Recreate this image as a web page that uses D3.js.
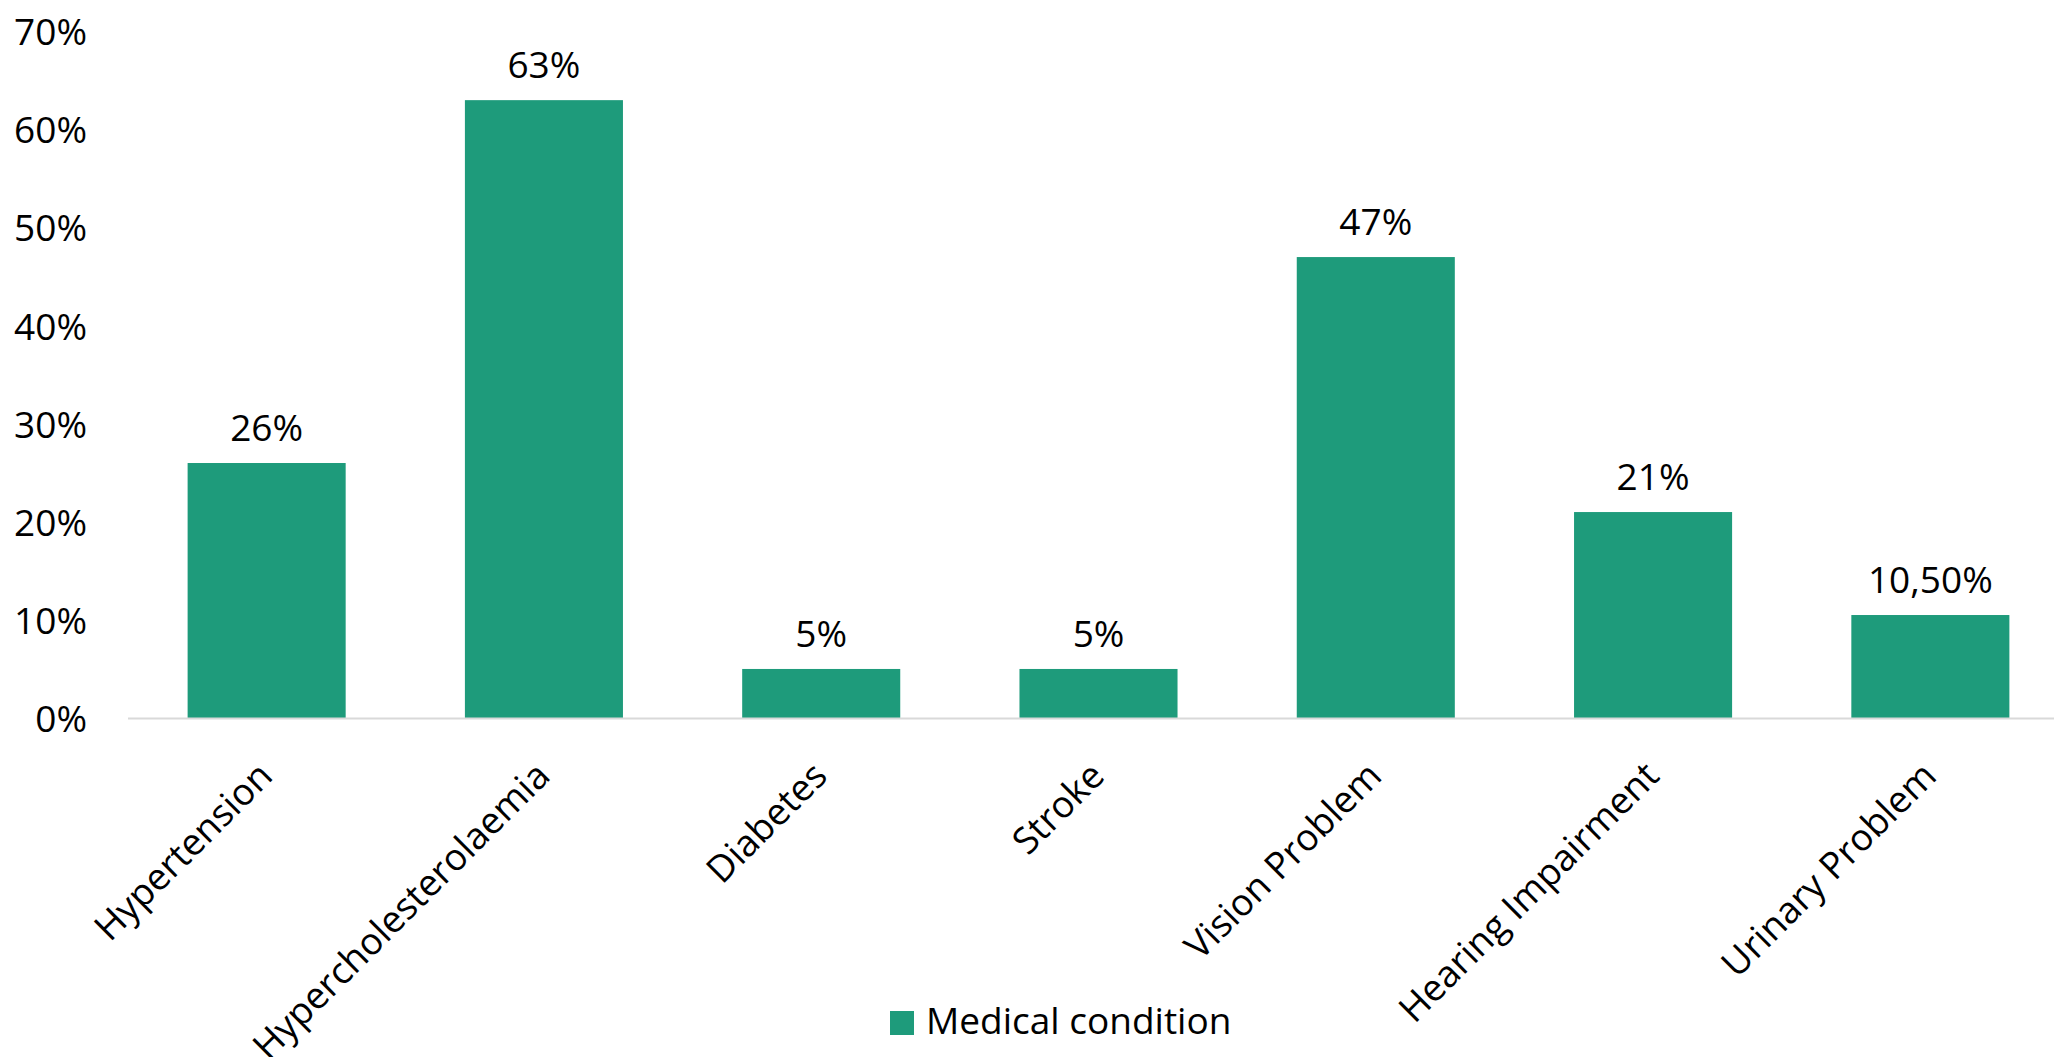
<!DOCTYPE html>
<html>
<head>
<meta charset="utf-8">
<script src="https://cdn.jsdelivr.net/npm/d3@7"></script>
<style>
  html, body { margin: 0; padding: 0; background: #ffffff; overflow: hidden; }
  svg { display: block; }
  text { font-family: "Open Sans", "Noto Sans", sans-serif; fill: #000; }
</style>
</head>
<body>
<script>
// Share of respondents reporting each medical condition
const categories = ["Hypertension", "Hypercholesterolaemia", "Diabetes", "Stroke",
                    "Vision Problem", "Hearing Impairment", "Urinary Problem"];
const values = [26, 63, 5, 5, 47, 21, 10.5];
const valueLabels = ["26%", "63%", "5%", "5%", "47%", "21%", "10,50%"];
const yTicks = [0, 10, 20, 30, 40, 50, 60, 70];
const seriesName = "Medical condition";

const W = 2054, H = 1057;
const barColor = "#1e9b7b";
const fontSize = 37;

const svg = d3.select("body").append("svg")
  .attr("width", W).attr("height", H);

const x = d3.scaleBand()
  .domain(categories)
  .range([128, 2069])
  .paddingInner(0.43)
  .paddingOuter(0.215);

const y = d3.scaleLinear()
  .domain([0, 70])
  .range([718, 31.5]);

// Value axis labels (no gridlines)
const yAxis = d3.axisLeft(y)
  .tickValues(yTicks)
  .tickFormat(d => d + "%")
  .tickSize(0)
  .tickPadding(0);

const gy = svg.append("g")
  .attr("transform", "translate(87,0)")
  .call(yAxis);
gy.select(".domain").remove();
gy.selectAll("text")
  .attr("font-size", fontSize)
  .attr("font-family", "'Open Sans', sans-serif")
  .attr("fill", "#000")
  .attr("dy", "0.36em");

// Bars
svg.append("g").selectAll("rect")
  .data(values)
  .join("rect")
  .attr("x", (d, i) => x(categories[i]))
  .attr("y", d => y(d))
  .attr("width", x.bandwidth())
  .attr("height", d => y(0) - y(d))
  .attr("fill", barColor);

// Category axis baseline
svg.append("line")
  .attr("x1", x.range()[0]).attr("x2", x.range()[1])
  .attr("y1", y(0) + 0.5).attr("y2", y(0) + 0.5)
  .attr("stroke", "#d9d9d9")
  .attr("stroke-width", 2);

// Rotated category labels
svg.append("g").selectAll("text")
  .data(categories)
  .join("text")
  .attr("transform", d => `translate(${x(d) + x.bandwidth() / 2 + 8},${y(0) + 60}) rotate(-45)`)
  .attr("text-anchor", "end")
  .attr("font-size", fontSize)
  .text(d => d);

// Value labels above bars
svg.append("g").selectAll("text")
  .data(values)
  .join("text")
  .attr("x", (d, i) => x(categories[i]) + x.bandwidth() / 2)
  .attr("y", d => y(d) - 22)
  .attr("text-anchor", "middle")
  .attr("font-size", fontSize)
  .text((d, i) => valueLabels[i]);

// Legend
const legend = svg.append("g").attr("transform", "translate(890,1011)");
legend.append("rect")
  .attr("width", 24).attr("height", 24)
  .attr("fill", barColor);
legend.append("text")
  .attr("x", 36).attr("y", 23)
  .attr("font-size", fontSize)
  .text(seriesName);
</script>
</body>
</html>
